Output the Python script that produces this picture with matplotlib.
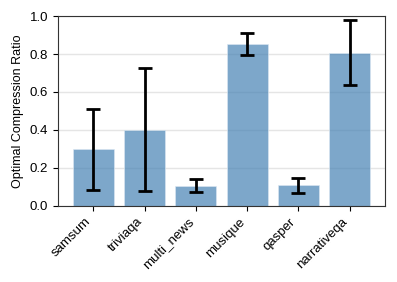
import matplotlib
matplotlib.use("Agg")
import matplotlib.pyplot as plt
import numpy as np

plt.rcParams['font.family'] = ['Liberation Sans', 'DejaVu Sans']

datasets = ['samsum', 'triviaqa', 'multi_news', 'musique', 'qasper', 'narrativeqa']
ratio_mean = [0.297, 0.402, 0.107, 0.853, 0.108, 0.808]
ratio_std = [0.213, 0.325, 0.035, 0.058, 0.038, 0.170]

fig = plt.figure(figsize=(3.97, 2.82), dpi=100)
ax = fig.add_axes([0.146, 0.270, 0.824, 0.673])

x = np.arange(len(datasets))
ax.bar(x, ratio_mean, width=0.8, color='steelblue', alpha=0.7,
       edgecolor='#dce8f2', linewidth=0.6, zorder=2)
ax.errorbar(x, ratio_mean, yerr=ratio_std, fmt='none', ecolor='black',
            elinewidth=2, capsize=5, capthick=2, zorder=3)

ax.set_ylim(0, 1.0)
ax.set_yticks([0.0, 0.2, 0.4, 0.6, 0.8, 1.0])
ax.set_xticks(x)
ax.set_xticklabels(datasets, rotation=45, ha='right', fontsize=9.5)
ax.tick_params(axis='y', labelsize=9.5)
ax.set_ylabel('Optimal Compression Ratio', fontsize=9)
ax.grid(axis='y', color='#e5e5e5', linewidth=1, zorder=0)
ax.set_axisbelow(True)
for s in ax.spines.values():
    s.set_color('#333333')

fig.savefig('out.png', dpi=100)
